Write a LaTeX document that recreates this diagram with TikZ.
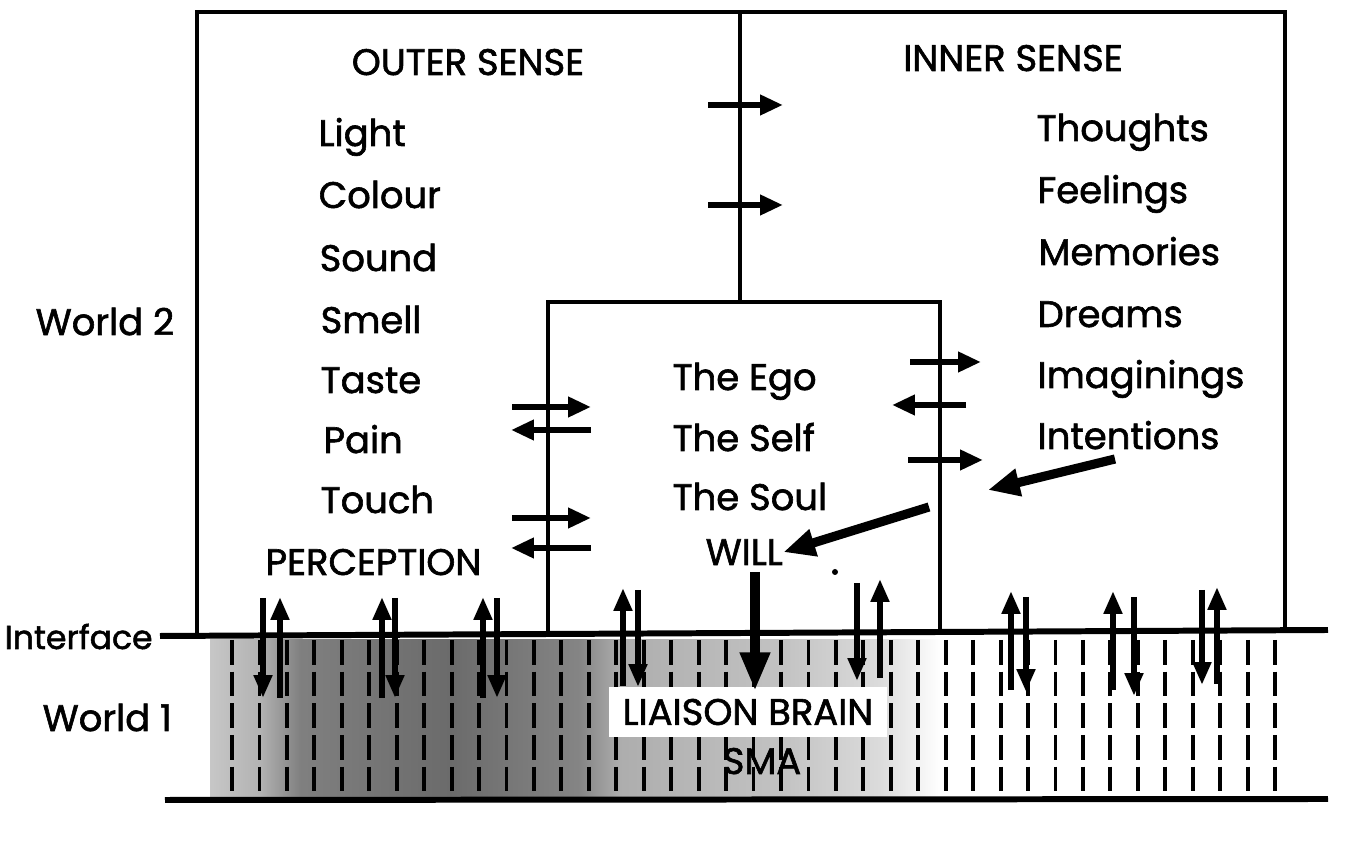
\documentclass[tikz,border=0pt]{standalone}
\usepackage{fontspec}
\setmainfont{Poppins}[FakeBold=1.6]
\usetikzlibrary{arrows.meta}
\pgfdeclarehorizontalshading{brainshade}{100bp}{%
  color(0bp)=(black!22); color(25bp)=(black!22); color(28.4bp)=(black!30);
  color(31.2bp)=(black!50); color(41.4bp)=(black!58); color(50.3bp)=(black!48);
  color(53.1bp)=(black!32); color(64bp)=(black!24); color(70.9bp)=(black!14);
  color(75bp)=(white); color(100bp)=(white)}
\tikzset{
  lab/.style={inner sep=0pt, anchor=base west, font=\fontsize{10.5pt}{12pt}\selectfont},
  labc/.style={inner sep=0pt, anchor=base, font=\fontsize{10.5pt}{12pt}\selectfont},
  frame/.style={line width=1.3pt, line cap=rect},
  iface/.style={line width=1.7pt},
  harr/.style={line width=1.9pt, -{Triangle[length=6.5pt,width=5.5pt]}},
  varr/.style={line width=1.9pt, -{Triangle[length=6.5pt,width=5pt]}},
  bigarr/.style={line width=3pt, -{Triangle[length=11pt,width=8pt]}},
  diagarr/.style={line width=2.6pt, -{Triangle[length=9pt,width=7.5pt]}},
  brainline/.style={line width=1.1pt, dash pattern=on 7pt off 2pt},
}
\begin{document}
\begin{tikzpicture}[x=0.01cm,y=-0.01cm]
\useasboundingbox (0,0) rectangle (1356,855);
% brain shading
\shade[shading=brainshade] (210,640) rectangle (940,798);
% dashed columns
\foreach \i in {0,...,38} {
  \draw[brainline] ({232+27.45*\i},640) -- ({232+27.45*\i},798);
}
% liaison brain label
\node[fill=white, minimum width=2.77cm, minimum height=0.49cm, inner sep=0pt,
      font=\fontsize{10.5pt}{12pt}\selectfont] (lb) at (748,712) {LIAISON BRAIN};
\node[labc] (sma) at (762,774) {SMA};
% frames
\coordinate (otl) at (197,12);
\coordinate (otr) at (1285,12);
\coordinate (obl) at (197,633);
\coordinate (obr) at (1285,631);
\draw[frame] (obl) -- (otl) -- (otr) -- (obr);
\coordinate (dtop) at (740,12);
\coordinate (dbot) at (740,302);
\draw[frame] (dtop) -- (dbot);
\coordinate (itl) at (548,302);
\coordinate (itr) at (940,302);
\coordinate (ibl) at (548,633);
\coordinate (ibr) at (940,632);
\draw[frame] (ibl) -- (itl) -- (itr) -- (ibr);
% interface and bottom lines
\coordinate (ifl) at (160,636);
\coordinate (ifr) at (1328,630);
\draw[iface] (ifl) -- (ifr);
\coordinate (bl) at (165,800);
\coordinate (br) at (1328,799);
\draw[iface] (bl) -- (br);
% headings
\node[labc] (outer) at (468,75) {OUTER SENSE};
\node[labc] (inner) at (1013,71) {INNER SENSE};
% outer sense list
\node[lab] (light) at (318,146) {Light};
\node[lab] (colour) at (318,208) {Colour};
\node[lab] (sound) at (319,271) {Sound};
\node[lab] (smell) at (320,333) {Smell};
\node[lab] (taste) at (320,393) {Taste};
\node[lab] (pain) at (323,453) {Pain};
\node[lab] (touch) at (320,513) {Touch};
\node[lab] (perc) at (265,575) {PERCEPTION};
% inner sense list
\node[lab] (thoughts) at (1036,141) {Thoughts};
\node[lab] (feelings) at (1037,203) {Feelings};
\node[lab] (memories) at (1038,265) {Memories};
\node[lab] (dreams) at (1037,327) {Dreams};
\node[lab] (imag) at (1037,388) {Imaginings};
\node[lab] (intent) at (1037,449) {Intentions};
% ego box
\node[lab] (ego) at (672,390) {The Ego};
\node[lab] (self) at (672,451) {The Self};
\node[lab] (soul) at (672,510) {The Soul};
\node[lab] (will) at (705,565) {WILL};
% world labels
\node[lab] (w2) at (35,335) {World 2};
\node[lab, font=\fontsize{9.4pt}{11pt}\selectfont] (ifc) at (4,649) {Interface};
\node[lab] (w1) at (42,731) {World 1};
% arrows on divider
\draw[harr] (708,105) -- (783,105);
\draw[harr] (708,205) -- (783,205);
% arrows on ego box left
\draw[harr] (512,407) -- (591,407);
\draw[harr] (591,430) -- (511,430);
\draw[harr] (512,518) -- (591,518);
\draw[harr] (591,548) -- (511,548);
% arrows on ego box right
\draw[harr] (910,362) -- (981,362);
\draw[harr] (966,405) -- (892,405);
\draw[harr] (908,460) -- (983,460);
% diagonal arrows
\coordinate (dia1) at (1115,459);
\coordinate (dia1e) at (988,490);
\draw[diagarr] (dia1) -- (dia1e);
\coordinate (dia2) at (929,507);
\draw[diagarr] (dia2) -- (will.east);
\fill (835,572) circle (3);
% vertical arrows across interface
\draw[varr] (263,598) -- (263,698);
\draw[varr] (280,698) -- (280,597);
\draw[varr] (382,698) -- (382,597);
\draw[varr] (395,598) -- (395,698);
\draw[varr] (483,698) -- (483,597);
\draw[varr] (497,598) -- (497,698);
\draw[varr] (623,686) -- (623,588);
\draw[varr] (638,590) -- (638,687);
\draw[bigarr] (755,572) -- (755,691);
\draw[varr] (857,583) -- (857,681);
\draw[varr] (880,678) -- (880,579);
\draw[varr] (1011,690) -- (1011,591);
\draw[varr] (1026,597) -- (1026,692);
\draw[varr] (1113,690) -- (1113,591);
\draw[varr] (1134,597) -- (1134,696);
\draw[varr] (1202,590) -- (1202,685);
\draw[varr] (1217,684) -- (1217,587);
\end{tikzpicture}
\end{document}
